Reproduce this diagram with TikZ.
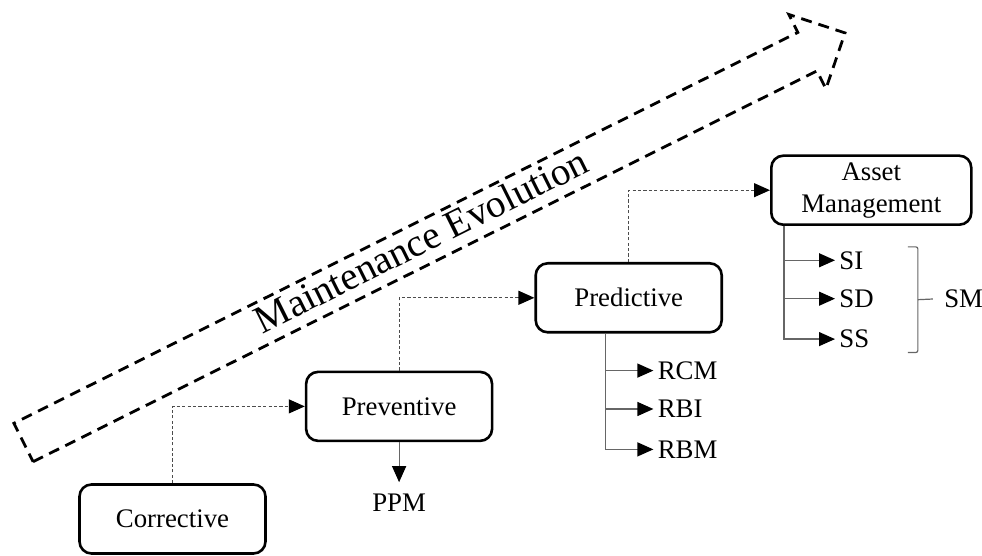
\documentclass[tikz,border=0pt]{standalone}
\usepackage{fontspec}
\setmainfont{Liberation Serif}
\usepackage{tikz}
\usetikzlibrary{arrows.meta,positioning,calc}

\begin{document}
\begin{tikzpicture}[
  x=0.5pt, y=0.5pt,
  stage/.style={draw, line width=1.3pt, rounded corners=6pt, minimum width=93pt, minimum height=34.5pt, inner sep=2pt, align=center, font=\fontsize{13.4}{16}\selectfont},
  item/.style={inner sep=2pt, font=\fontsize{13.4}{16}\selectfont},
  flow/.style={-{Triangle[length=8pt, width=7pt, color=black]}, draw=black!70, line width=0.6pt, dash pattern=on 1.6pt off 1.1pt},
  branch/.style={-{Triangle[length=8pt, width=7pt, color=black]}, draw=black!60, line width=0.6pt},
  bracket/.style={draw=black!60, line width=0.6pt, rounded corners=1pt},
  evo/.style={draw, line width=1.4pt, dash pattern=on 5.5pt off 3.5pt}
]
  \useasboundingbox (0,0) rectangle (982,556);

  % evolution arrow
  \begin{scope}[shift={(23.5,113.5)}, rotate=26.5]
    \draw[evo] (0,-21.5) -- (876,-21.5) -- (876,-41.5) -- (918,0) -- (876,41.5) -- (876,21.5) -- (0,21.5) -- cycle;
    \node[rotate=26.5, anchor=base, inner sep=0pt, font=\fontsize{19.6}{23}\selectfont] (evolabel) at (446,-10) {Maintenance Evolution};
  \end{scope}

  \node[stage] (corr) at (172.5,37) {Corrective};
  \node[stage, above right=20.5pt and 19pt of corr] (prev) {Preventive};
  \node[stage, above right=18.5pt and 20.5pt of prev] (pred) {Predictive};
  \node[stage, minimum width=100pt, above right=18pt and 23.5pt of pred] (asset) {Asset\\Management};

  \draw[flow] (corr.north) |- (prev.west);
  \draw[flow] (prev.north) |- (pred.west);
  \draw[flow] (pred.north) |- (asset.west);

  % preventive
  \node[item, below=23.5pt of prev] (ppm) {PPM};
  \draw[branch, shorten >=3.5pt] (prev) -- (ppm);

  % predictive
  \node[item, below right=18.5pt and 59.5pt of pred.south west, anchor=west] (rcm) {RCM};
  \node[item, below=19.2pt of rcm.west, anchor=west] (rbi) {RBI};
  \node[item, below=20.2pt of rbi.west, anchor=west] (rbm) {RBM};
  \coordinate (predtrunk) at ($(pred.south west)+(35.5pt,0)$);
  \foreach \n in {rcm,rbi,rbm}
    \draw[branch] (predtrunk) |- (\n.west);

  % asset management
  \node[item, below right=17.15pt and 32.5pt of asset.south west, anchor=west] (si) {SI};
  \node[item, below=19.2pt of si.west, anchor=west] (sd) {SD};
  \node[item, below=20.2pt of sd.west, anchor=west] (ss) {SS};
  \coordinate (assettrunk) at ($(asset.south west)+(7pt,0)$);
  \foreach \n in {si,sd,ss}
    \draw[branch] (assettrunk) |- (\n.west);

  \node[item, right=30.9pt of sd] (sm) {SM};
  \coordinate (brtop) at ($(si.north -| sm.west)+(-11pt,0)$);
  \coordinate (brbot) at ($(ss.south -| sm.west)+(-11pt,0)$);
  \draw[bracket] ($(brtop)+(-5pt,0)$) -- (brtop) -- (brbot) -- ++(-5pt,0);
  \draw[bracket, shorten >=3.5pt] ($(brtop)!0.5!(brbot)$) -- (sm.west);
\end{tikzpicture}
\end{document}
